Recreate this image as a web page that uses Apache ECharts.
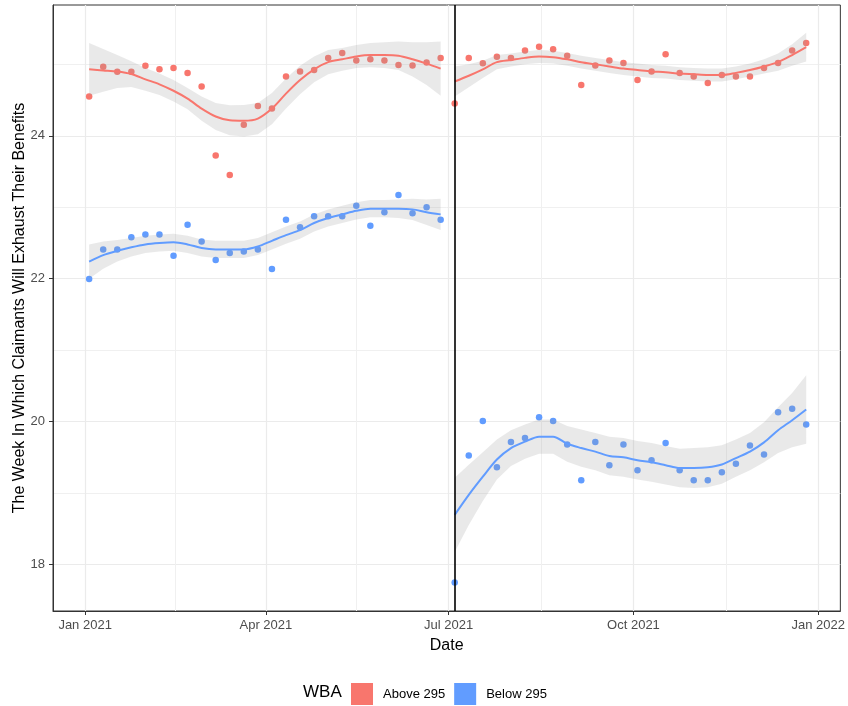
<!DOCTYPE html>
<html>
<head>
<meta charset="utf-8">
<script src="https://cdn.jsdelivr.net/npm/echarts@6/dist/echarts.min.js"></script>
<style>
html,body{margin:0;padding:0;background:#fff;}
#chart{width:848px;height:706px;}
</style>
</head>
<body>
<div id="chart"></div>
<script>
// ---- data ----
const datesH1 = ['2021-01-03','2021-01-10','2021-01-17','2021-01-24','2021-01-31','2021-02-07','2021-02-14','2021-02-21','2021-02-28','2021-03-07','2021-03-14','2021-03-21','2021-03-28','2021-04-04','2021-04-11','2021-04-18','2021-04-25','2021-05-02','2021-05-09','2021-05-16','2021-05-23','2021-05-30','2021-06-06','2021-06-13','2021-06-20','2021-06-27'];
const datesH2 = ['2021-07-04','2021-07-11','2021-07-18','2021-07-25','2021-08-01','2021-08-08','2021-08-15','2021-08-22','2021-08-29','2021-09-05','2021-09-12','2021-09-19','2021-09-26','2021-10-03','2021-10-10','2021-10-17','2021-10-24','2021-10-31','2021-11-07','2021-11-14','2021-11-21','2021-11-28','2021-12-05','2021-12-12','2021-12-19','2021-12-26'];

const aboveH1 = [24.55,24.965,24.895,24.895,24.98,24.93,24.95,24.88,24.69,23.725,23.45,24.155,24.415,24.38,24.83,24.90,24.92,25.09,25.16,25.055,25.07,25.055,24.99,24.985,25.025,25.09];
const aboveH2 = [24.45,25.09,25.015,25.105,25.09,25.195,25.245,25.21,25.12,24.71,24.985,25.055,25.02,24.78,24.90,25.14,24.88,24.83,24.74,24.85,24.83,24.83,24.95,25.02,25.195,25.30];
const belowH1 = [21.995,22.41,22.41,22.58,22.62,22.62,22.32,22.755,22.52,22.26,22.36,22.38,22.41,22.135,22.825,22.72,22.875,22.875,22.875,23.02,22.74,22.93,23.17,22.915,23.0,22.825];
const belowH2 = [17.75,19.525,20.01,19.36,19.716,19.77,20.06,20.01,19.68,19.18,19.716,19.39,19.68,19.32,19.46,19.70,19.32,19.18,19.18,19.29,19.41,19.665,19.54,20.13,20.18,19.96];

// smoothed fits and half-width of confidence band
const aboveFitH1 = [24.93,24.915,24.90,24.864,24.79,24.72,24.63,24.52,24.38,24.27,24.216,24.21,24.24,24.38,24.59,24.78,24.93,25.03,25.07,25.11,25.13,25.13,25.12,25.07,25.01,24.94];
const aboveSeH1  = [0.37,0.30,0.23,0.18,0.16,0.15,0.15,0.15,0.17,0.19,0.21,0.22,0.22,0.22,0.21,0.20,0.18,0.17,0.16,0.16,0.17,0.18,0.20,0.24,0.30,0.38];
const aboveFitH2 = [24.76,24.84,24.93,25.03,25.06,25.09,25.11,25.10,25.07,25.03,25.00,24.97,24.94,24.92,24.90,24.89,24.87,24.86,24.85,24.85,24.88,24.92,24.97,25.03,25.13,25.24];
const aboveSeH2  = [0.21,0.16,0.12,0.10,0.09,0.09,0.09,0.09,0.09,0.09,0.09,0.09,0.09,0.09,0.09,0.09,0.09,0.09,0.09,0.09,0.09,0.09,0.10,0.12,0.15,0.20];
const belowFitH1 = [22.24,22.33,22.39,22.44,22.48,22.50,22.51,22.48,22.43,22.41,22.41,22.41,22.45,22.53,22.61,22.68,22.78,22.85,22.90,22.95,22.98,22.98,22.98,22.97,22.93,22.90];
const belowSeH1  = [0.24,0.19,0.15,0.13,0.12,0.12,0.12,0.12,0.12,0.12,0.12,0.12,0.12,0.12,0.12,0.12,0.12,0.12,0.12,0.12,0.12,0.12,0.13,0.15,0.18,0.22];
const belowFitH2 = [18.695,18.975,19.23,19.47,19.63,19.72,19.79,19.79,19.69,19.63,19.58,19.52,19.50,19.46,19.43,19.39,19.35,19.35,19.36,19.40,19.49,19.58,19.71,19.88,20.02,20.17];
const belowSeH2  = [0.52,0.42,0.34,0.28,0.25,0.24,0.24,0.24,0.25,0.26,0.26,0.27,0.27,0.27,0.27,0.27,0.27,0.28,0.28,0.27,0.26,0.26,0.28,0.32,0.38,0.48];

const xTickDates  = ['2021-01-01','2021-04-01','2021-07-01','2021-10-01','2022-01-01'];
const xTickLabels = ['Jan 2021','Apr 2021','Jul 2021','Oct 2021','Jan 2022'];
const xMinorDates = ['2021-02-15','2021-05-16','2021-08-16','2021-11-16'];
const xRange = ['2020-12-16','2022-01-12'];
const yTicks = [18,20,22,24];
const yMinor = [19,21,23,25];
const yRange = [17.35, 25.83];
const cutDate = '2021-07-04';
const seriesNames = ['Above 295','Below 295'];
const colors = ['#F8766D','#619CFF'];

// ---- build options ----
const FONT = '"Liberation Sans", Arial, sans-serif';
const T = s => Date.parse(s + 'T00:00:00Z');
const zip = (d, v) => d.map((x, i) => [T(x), v[i]]);
const tickLabelMap = {};
xTickDates.forEach((d, i) => { tickLabelMap[T(d)] = xTickLabels[i]; });

const series = [];
[[aboveH1, aboveH2, 0], [belowH1, belowH2, 1]].forEach(([h1, h2, k]) => {
  series.push({
    name: seriesNames[k], type: 'scatter', symbolSize: 6.5, z: 2,
    itemStyle: {color: colors[k], opacity: 1},
    data: zip(datesH1, h1).concat(zip(datesH2, h2))
  });
});
// confidence bands: polygons drawn through the axes' scales (api.coord)
const bands = [
  [datesH1, aboveFitH1, aboveSeH1], [datesH2, aboveFitH2, aboveSeH2],
  [datesH1, belowFitH1, belowSeH1], [datesH2, belowFitH2, belowSeH2]
];
bands.forEach(([d, fit, se]) => {
  const upper = d.map((x, j) => [T(x), fit[j] + se[j]]);
  const lower = d.map((x, j) => [T(x), fit[j] - se[j]]);
  series.push({
    type: 'custom', z: 3, silent: true,
    data: [upper[0]],
    encode: {x: 0, y: 1},
    renderItem: function (params, api) {
      const up = upper.map(p => api.coord(p));
      const lo = lower.map(p => api.coord(p)).reverse();
      return {
        type: 'group',
        children: [{
          type: 'polyline', shape: {points: up.concat(lo).concat([up[0]]), smooth: 0},
          style: {fill: 'rgba(153,153,153,0.22)', stroke: null, lineWidth: 0}
        }]
      };
    }
  });
});
[[datesH1, aboveFitH1, 0], [datesH2, aboveFitH2, 0], [datesH1, belowFitH1, 1], [datesH2, belowFitH2, 1]].forEach(([d, fit, k]) => {
  series.push({
    name: seriesNames[k], type: 'line', symbol: 'none', z: 4, smooth: 0.3,
    lineStyle: {color: colors[k], width: 2}, itemStyle: {color: colors[k]},
    data: zip(d, fit)
  });
});
series.push({
  type: 'line', data: [], z: 6, silent: true,
  markLine: {
    symbol: ['none','none'], silent: true, animation: false,
    label: {show: false},
    lineStyle: {color: '#000', width: 1.6, type: 'solid'},
    data: [{xAxis: T(cutDate)}]
  }
});

const option = {
  animation: false,
  backgroundColor: '#fff',
  textStyle: {fontFamily: FONT},
  title: {
    text: 'WBA', left: 303, top: 684, padding: 0,
    textStyle: {fontFamily: FONT, fontSize: 17, fontWeight: 'normal', color: '#000'}
  },
  legend: {
    left: 351, top: 683, padding: 0, itemWidth: 22, itemHeight: 22, itemGap: 9,
    data: seriesNames.map(n => ({name: n, icon: 'rect'})),
    textStyle: {fontFamily: FONT, fontSize: 13, color: '#000', padding: [0, 0, 0, 5]}
  },
  grid: {left: 53, right: 5, top: 5, bottom: 95, show: true, borderColor: '#333', borderWidth: 1, backgroundColor: 'transparent'},
  xAxis: [{
    type: 'value', min: T(xRange[0]), max: T(xRange[1]),
    name: 'Date', nameLocation: 'middle', nameGap: 27,
    nameTextStyle: {fontFamily: FONT, fontSize: 16, color: '#000'},
    axisLine: {show: true, onZero: false, lineStyle: {color: '#333', width: 1}},
    axisTick: {show: true, length: 4, lineStyle: {color: '#333'}, customValues: xTickDates.map(T)},
    axisLabel: {customValues: xTickDates.map(T), fontFamily: FONT, fontSize: 13, color: '#4D4D4D', margin: 8,
      formatter: v => tickLabelMap[v] || ''},
    splitLine: {show: true, lineStyle: {color: '#EBEBEB', width: 1.2}}
  }, {
    type: 'value', min: T(xRange[0]), max: T(xRange[1]), position: 'bottom',
    axisLine: {show: false, onZero: false},
    axisTick: {show: false, customValues: xMinorDates.map(T)},
    axisLabel: {show: false, customValues: xMinorDates.map(T)},
    splitLine: {show: true, lineStyle: {color: '#F0F0F0', width: 1}}
  }],
  yAxis: [{
    type: 'value', min: yRange[0], max: yRange[1],
    name: 'The Week In Which Claimants Will Exhaust Their Benefits',
    nameLocation: 'middle', nameGap: 25, nameRotate: 90, nameMoveOverlap: false,
    nameTextStyle: {fontFamily: FONT, fontSize: 16, color: '#000'},
    axisLine: {show: true, onZero: false, lineStyle: {color: '#333', width: 1}},
    axisTick: {show: true, length: 4, lineStyle: {color: '#333'}, customValues: yTicks},
    axisLabel: {customValues: yTicks, fontFamily: FONT, fontSize: 13, color: '#4D4D4D', margin: 8},
    splitLine: {show: true, lineStyle: {color: '#EBEBEB', width: 1.2}}
  }, {
    type: 'value', min: yRange[0], max: yRange[1], position: 'left',
    axisLine: {show: false, onZero: false},
    axisTick: {show: false, customValues: yMinor},
    axisLabel: {show: false, customValues: yMinor},
    splitLine: {show: true, lineStyle: {color: '#F0F0F0', width: 1}}
  }],
  series: series
};

const chart = echarts.init(document.getElementById('chart'), null, {renderer: 'canvas'});
chart.setOption(option);
</script>
</body>
</html>
